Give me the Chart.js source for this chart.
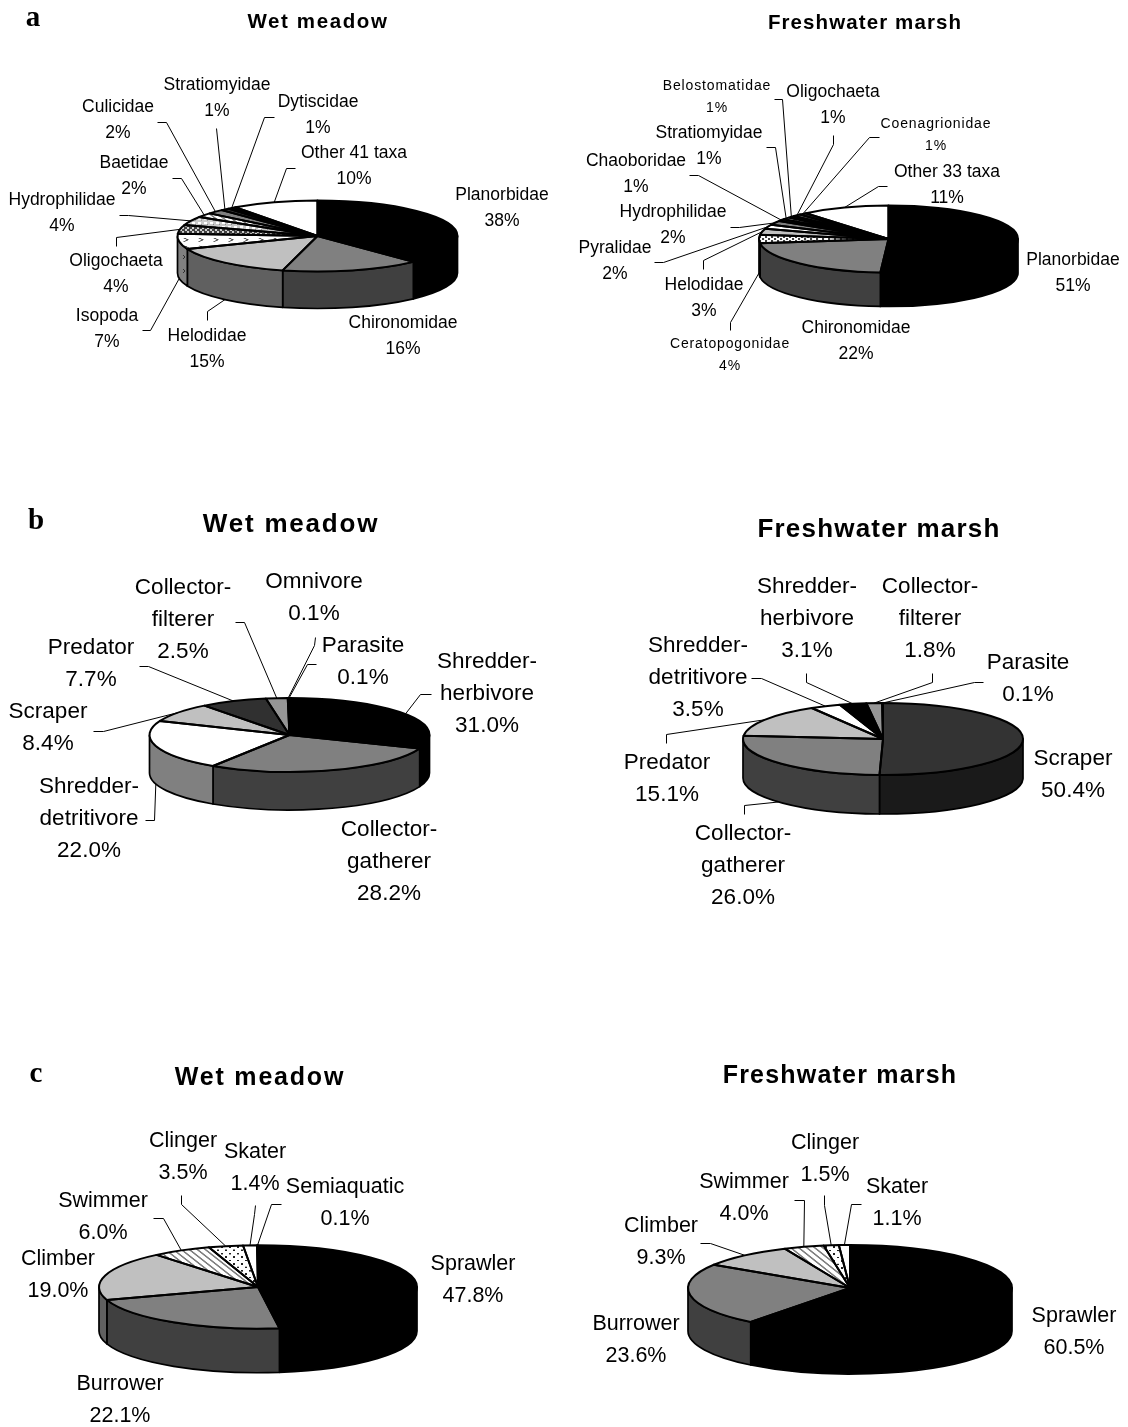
<!DOCTYPE html>
<html>
<head>
<meta charset="utf-8">
<title>Wet meadow and freshwater marsh pies</title>
<script src="https://cdn.jsdelivr.net/npm/chart.js@4"></script>
<style>
    html, body { margin: 0; padding: 0; background: #fff; }
    #page { position: relative; width: 1128px; height: 1427px; overflow: hidden; }
    #page canvas { position: absolute; }
</style>
</head>
<body>
<div id="page"></div>
<script>
(function() {
    'use strict';

    // Panel a: relative abundance of taxa
    const taxaWetNames = ['Planorbidae', 'Chironomidae', 'Helodidae', 'Isopoda', 'Oligochaeta', 'Hydrophilidae', 'Baetidae', 'Culicidae', 'Stratiomyidae', 'Dytiscidae', 'Other 41 taxa'];
    const taxaWetValues = [38, 16, 15, 7, 4, 4, 2, 2, 1, 1, 10];
    const taxaMarshNames = ['Planorbidae', 'Chironomidae', 'Ceratopogonidae', 'Helodidae', 'Pyralidae', 'Hydrophilidae', 'Chaoboridae', 'Stratiomyidae', 'Belostomatidae', 'Oligochaeta', 'Coenagrionidae', 'Other 33 taxa'];
    const taxaMarshValues = [51, 22, 4, 3, 2, 2, 1, 1, 1, 1, 1, 11];

    // Panel b: functional feeding groups
    const feedingWetNames = ['Shredder-herbivore', 'Collector-gatherer', 'Shredder-detritivore', 'Scraper', 'Predator', 'Collector-filterer', 'Omnivore', 'Parasite'];
    const feedingWetValues = [31.0, 28.2, 22.0, 8.4, 7.7, 2.5, 0.1, 0.1];
    const feedingMarshNames = ['Scraper', 'Collector-gatherer', 'Predator', 'Shredder-detritivore', 'Shredder-herbivore', 'Collector-filterer', 'Parasite'];
    const feedingMarshValues = [50.4, 26.0, 15.1, 3.5, 3.1, 1.8, 0.1];

    // Panel c: habit groups
    const habitWetNames = ['Sprawler', 'Burrower', 'Climber', 'Swimmer', 'Clinger', 'Skater', 'Semiaquatic'];
    const habitWetValues = [47.8, 22.1, 19.0, 6.0, 3.5, 1.4, 0.1];
    const habitMarshNames = ['Sprawler', 'Burrower', 'Climber', 'Swimmer', 'Clinger', 'Skater'];
    const habitMarshValues = [60.5, 23.6, 9.3, 4.0, 1.5, 1.1];

    const TITLE_WET = 'Wet meadow';
    const TITLE_MARSH = 'Freshwater marsh';

    const SANS = '"Liberation Sans", Arial, sans-serif';

    // Fill patterns for the small slices. Top tiles are tall because the pie gets squashed.
    function makeTile(w, h, bg, paint) {
        const c = document.createElement('canvas');
        c.width = w;
        c.height = h;
        const g = c.getContext('2d');
        g.fillStyle = bg;
        g.fillRect(0, 0, w, h);
        paint(g);
        return g.createPattern(c, 'repeat');
    }

    const chevronTop = makeTile(15, 30, '#fff', g => {
        g.strokeStyle = '#505050';
        g.lineWidth = 2;
        g.beginPath(); g.moveTo(4, 4); g.lineTo(8, 11); g.lineTo(4, 18); g.stroke();
    });
    const chevronSide = makeTile(12, 14, '#808080', g => {
        g.strokeStyle = '#303030';
        g.lineWidth = 1;
        g.beginPath(); g.moveTo(3, 3); g.lineTo(5, 5); g.lineTo(3, 7); g.stroke();
    });
    const checkDark = makeTile(5, 16, '#404040', g => {
        g.fillStyle = '#d0d0d0';
        g.fillRect(0, 0, 2, 7);
        g.fillRect(2, 8, 2, 7);
    });
    const checkLight = makeTile(6, 18, '#c8c8c8', g => {
        g.fillStyle = '#fff';
        g.fillRect(0, 0, 3, 9);
        g.fillStyle = '#888';
        g.fillRect(3, 9, 1, 4);
    });
    const checkWhite = makeTile(6, 18, '#fff', g => {
        g.fillStyle = '#404040';
        g.fillRect(0, 0, 2, 9);
        g.fillRect(3, 9, 2, 9);
    });
    const stripes = makeTile(8, 24, '#fff', g => {
        g.strokeStyle = '#808080';
        g.lineWidth = 2.4;
        g.beginPath();
        g.moveTo(-4, -12); g.lineTo(12, 36);
        g.moveTo(-12, -12); g.lineTo(4, 36);
        g.moveTo(4, -12); g.lineTo(20, 36);
        g.stroke();
    });
    const dots = makeTile(8, 26, '#fff', g => {
        g.fillStyle = '#202020';
        g.fillRect(1, 2, 2, 6);
        g.fillRect(5, 15, 2, 6);
    });

    // Slice colours, top face then the darker wall below it
    const taxaWetFills = ['#000', '#808080', '#c0c0c0', chevronTop, checkDark, checkLight, stripes, '#808080', '#303030', '#000', '#fff'];
    const taxaWetWalls = ['#000', '#404040', '#606060', chevronSide, '#202020', '#606060', '#808080', '#404040', '#181818', '#000', '#808080'];
    const taxaMarshFills = ['#000', '#808080', checkWhite, '#c0c0c0', '#fff', '#808080', '#303030', stripes, '#000', '#808080', '#303030', '#fff'];
    const taxaMarshWalls = ['#000', '#404040', '#101010', '#606060', '#808080', '#404040', '#181818', '#808080', '#000', '#404040', '#181818', '#808080'];
    const feedingWetFills = ['#000', '#808080', '#fff', '#c0c0c0', '#303030', '#969696', '#fff', '#000'];
    const feedingWetWalls = ['#000', '#404040', '#808080', '#606060', '#181818', '#4b4b4b', '#808080', '#000'];
    const feedingMarshFills = ['#333', '#808080', '#c0c0c0', '#fff', '#000', '#969696', '#fff'];
    const feedingMarshWalls = ['#1a1a1a', '#404040', '#606060', '#808080', '#000', '#4b4b4b', '#808080'];
    const habitWetFills = ['#000', '#808080', '#c0c0c0', stripes, dots, '#fff', '#000'];
    const habitWetWalls = ['#000', '#404040', '#606060', '#808080', '#808080', '#808080', '#000'];
    const habitMarshFills = ['#000', '#808080', '#c0c0c0', stripes, dots, '#fff'];
    const habitMarshWalls = ['#000', '#404040', '#606060', '#808080', '#808080', '#808080'];

    // Label centres (page px, middle of the first line) and leader elbows, in slice order
    const taxaWetLabels = [[502, 195], [403, 323], [207, 336], [107, 316], [116, 261], [62, 200], [134, 163], [118, 107], [217, 85], [318, 102], [354, 153]];
    const taxaWetLeaders = [null, null,
        [[207, 320], [207, 311]],
        [[142, 330], [150, 330]],
        [[116, 246], [116, 237]],
        [[119, 215], [128, 215]],
        [[172, 178], [181, 178]],
        [[157, 122], [166, 122]],
        [[216, 128]],
        [[274, 117], [264, 117]],
        [[295, 168], [286, 168]]];
    const taxaMarshLabels = [[1073, 260], [856, 328], [730, 344], [704, 285], [615, 248], [673, 212], [636, 161], [709, 133], [717, 86], [833, 92], [936, 124], [947, 172]];
    const taxaMarshLeaders = [null, null,
        [[730, 330], [730, 322]],
        [[703, 269], [703, 260]],
        [[654, 262], [663, 262]],
        [[730, 227], [739, 227]],
        [[689, 175], [698, 175]],
        [[766, 147], [775, 147]],
        [[774, 99], [782, 99]],
        [[833, 135], [833, 144]],
        [[879, 137], [869, 137]],
        [[887, 186], [878, 186]]];
    const taxaMarshSmall = ['Ceratopogonidae', 'Belostomatidae', 'Coenagrionidae'];

    const feedingWetLabels = [[487, 662], [389, 830], [89, 787], [48, 712], [91, 648], [183, 588], [314, 582], [363, 646]];
    const feedingWetLeaders = [
        [[431, 694], [420, 694]],
        null,
        [[145, 820], [154, 820]],
        [[93, 731], [103, 731]],
        [[139, 666], [148, 666]],
        [[235, 622], [244, 622]],
        [[315, 637], [314, 645]],
        [[316, 664], [307, 664]]];
    const feedingMarshLabels = [[1073, 759], [743, 834], [667, 763], [698, 646], [807, 587], [930, 587], [1028, 663]];
    const feedingMarshLeaders = [null,
        [[744, 814], [744, 805]],
        [[666, 743], [666, 734]],
        [[751, 678], [761, 678]],
        [[806, 673], [806, 682]],
        [[932, 673], [932, 682]],
        [[983, 682], [974, 682]]];

    const habitWetLabels = [[473, 1264], [120, 1384], [58, 1259], [103, 1201], [183, 1141], [255, 1152], [345, 1187]];
    const habitWetLeaders = [null, null, null,
        [[153, 1218], [163, 1218]],
        [[181, 1195], [181, 1204]],
        [[255, 1205], [254, 1214]],
        [[281, 1204], [271, 1204]]];
    const habitMarshLabels = [[1074, 1316], [636, 1324], [661, 1226], [744, 1182], [825, 1143], [897, 1187]];
    const habitMarshLeaders = [null, null,
        [[700, 1243], [710, 1243]],
        [[794, 1200], [804, 1200]],
        [[824, 1195], [824, 1205]],
        [[861, 1204], [851, 1204]]];

    const PANELS = [
        { names: taxaWetNames, values: taxaWetValues, fills: taxaWetFills, walls: taxaWetWalls, labels: taxaWetLabels, leaders: taxaWetLeaders, letter: ['a', 33, 26],
          title: TITLE_WET, titleAt: [318, 22], titleSize: 20.5, titleGap: 1.6, box: [0, 0, 564, 420], cx: 317.5, cy: 236, rx: 140, ry: 35.5, depth: 37, size: 17.5, line: 26, decimals: 0 },
        { names: taxaMarshNames, values: taxaMarshValues, fills: taxaMarshFills, walls: taxaMarshWalls, labels: taxaMarshLabels, leaders: taxaMarshLeaders, small: taxaMarshSmall,
          title: TITLE_MARSH, titleAt: [865, 23], titleSize: 20.5, titleGap: 1.1, box: [564, 0, 564, 420], cx: 888.5, cy: 239, rx: 129.5, ry: 33.5, depth: 34, size: 17.5, line: 26, decimals: 0 },
        { names: feedingWetNames, values: feedingWetValues, fills: feedingWetFills, walls: feedingWetWalls, labels: feedingWetLabels, leaders: feedingWetLeaders, letter: ['b', 36, 529],
          title: TITLE_WET, titleAt: [291, 525], titleSize: 26, titleGap: 1.8, box: [0, 420, 564, 540], cx: 289.5, cy: 735, rx: 140, ry: 37, depth: 38, size: 22.5, line: 32, decimals: 1 },
        { names: feedingMarshNames, values: feedingMarshValues, fills: feedingMarshFills, walls: feedingMarshWalls, labels: feedingMarshLabels, leaders: feedingMarshLeaders,
          title: TITLE_MARSH, titleAt: [879, 530], titleSize: 26, titleGap: 1.2, box: [564, 420, 564, 540], cx: 883, cy: 739, rx: 140, ry: 36, depth: 39, size: 22.5, line: 32, decimals: 1 },
        { names: habitWetNames, values: habitWetValues, fills: habitWetFills, walls: habitWetWalls, labels: habitWetLabels, leaders: habitWetLeaders, letter: ['c', 36, 1082],
          title: TITLE_WET, titleAt: [260, 1078], titleSize: 25, titleGap: 1.8, box: [0, 960, 564, 467], cx: 258, cy: 1287, rx: 159, ry: 41.7, depth: 44, size: 21.5, line: 32, decimals: 1 },
        { names: habitMarshNames, values: habitMarshValues, fills: habitMarshFills, walls: habitMarshWalls, labels: habitMarshLabels, leaders: habitMarshLeaders,
          title: TITLE_MARSH, titleAt: [840, 1076], titleSize: 25, titleGap: 1.2, box: [564, 960, 564, 467], cx: 850, cy: 1288, rx: 162, ry: 43, depth: 43, size: 21.5, line: 32, decimals: 1 }
    ];

    // "Shredder-herbivore" is set on two lines, broken after the hyphen
    function labelLines(name, value, decimals) {
        const lines = name.includes('-') ? [name.split('-')[0] + '-', name.split('-')[1]] : [name];
        lines.push(value.toFixed(decimals) + '%');
        return lines;
    }

    function rim(ctx, arc, ry, drop, start, end) {
        ctx.ellipse(arc.x, arc.y + drop, arc.outerRadius, ry, 0, start, end, start > end);
    }

    // Squash the library's round pie into an ellipse, with walls and outlines drawn around it
    const pie3d = {
        id: 'pie3d',
        beforeDatasetsDraw(chart, args, opts) {
            const ctx = chart.ctx;
            const arcs = chart.getDatasetMeta(0).data;
            ctx.save();
            ctx.strokeStyle = '#000';
            ctx.lineWidth = 1.7;
            ctx.lineJoin = 'round';
            arcs.forEach((arc, i) => {
                const start = Math.max(arc.startAngle, 0);
                const end = Math.min(arc.endAngle, Math.PI);
                if (end <= start) return;
                ctx.beginPath();
                rim(ctx, arc, opts.ry, 0, start, end);
                rim(ctx, arc, opts.ry, opts.depth, end, start);
                ctx.closePath();
                ctx.fillStyle = opts.walls[i];
                ctx.fill();
                ctx.stroke();
            });
            ctx.restore();

            const midX = arcs[0].x;
            const midY = arcs[0].y;
            ctx.save();
            ctx.translate(midX, midY);
            ctx.scale(1, opts.ry / opts.rx);
            ctx.translate(-midX, -midY);
        },
        afterDatasetsDraw(chart, args, opts) {
            const ctx = chart.ctx;
            ctx.restore();
            ctx.save();
            ctx.strokeStyle = '#000';
            ctx.lineWidth = 2;
            ctx.lineJoin = 'round';
            chart.getDatasetMeta(0).data.forEach(arc => {
                ctx.beginPath();
                ctx.moveTo(arc.x, arc.y);
                rim(ctx, arc, opts.ry, 0, arc.startAngle, arc.endAngle);
                ctx.closePath();
                ctx.stroke();
            });
            ctx.restore();
        },
        afterDraw(chart, args, opts) {
            const ctx = chart.ctx;
            const [bx, by] = opts.box;
            ctx.save();
            ctx.translate(-bx, -by);

            // Leaders run from the typed elbows to the middle of the slice edge
            ctx.strokeStyle = '#000';
            ctx.lineWidth = 1;
            chart.getDatasetMeta(0).data.forEach((arc, i) => {
                const elbows = opts.leaders[i];
                if (!elbows) return;
                const mid = (arc.startAngle + arc.endAngle) / 2;
                const onWall = Math.sin(mid) > -0.01;
                ctx.beginPath();
                elbows.forEach(p => ctx.lineTo(p[0] + 0.5, p[1] + 0.5));
                ctx.lineTo(bx + arc.x + arc.outerRadius * Math.cos(mid),
                           by + arc.y + opts.ry * Math.sin(mid) + (onWall ? opts.depth : 0));
                ctx.stroke();
            });

            // Slice labels
            ctx.fillStyle = '#000';
            ctx.textAlign = 'center';
            ctx.textBaseline = 'middle';
            opts.names.forEach((name, i) => {
                const isSmall = opts.small && opts.small.includes(name);
                ctx.font = (isSmall ? 14 : opts.size) + 'px ' + SANS;
                ctx.letterSpacing = isSmall ? '0.85px' : '0px';
                const step = isSmall ? 22 : opts.line;
                labelLines(name, opts.values[i], opts.decimals).forEach((text, n) => {
                    ctx.fillText(text, opts.labels[i][0], opts.labels[i][1] + n * step);
                });
            });

            // Title and panel letter
            ctx.font = 'bold ' + opts.titleSize + 'px ' + SANS;
            ctx.letterSpacing = opts.titleGap + 'px';
            ctx.fillText(opts.title, opts.titleAt[0], opts.titleAt[1]);
            ctx.letterSpacing = '0px';
            if (opts.letter) {
                ctx.font = 'bold 29px "Liberation Serif", serif';
                ctx.textBaseline = 'alphabetic';
                ctx.fillText(opts.letter[0], opts.letter[1], opts.letter[2]);
            }
            ctx.restore();
        }
    };

    PANELS.forEach(panel => {
        const [bx, by, bw, bh] = panel.box;
        const canvas = document.createElement('canvas');
        canvas.style.left = bx + 'px';
        canvas.style.top = by + 'px';
        canvas.width = bw;
        canvas.height = bh;
        canvas.style.width = bw + 'px';
        canvas.style.height = bh + 'px';
        document.getElementById('page').appendChild(canvas);

        // Padding leaves a small chart area centred on the pie; radius is given in px
        const half = 30;
        new Chart(canvas.getContext('2d'), {
            type: 'pie',
            data: {
                labels: panel.names,
                datasets: [{
                    data: panel.values,
                    backgroundColor: panel.fills,
                    borderWidth: 0,
                    clip: false
                }]
            },
            plugins: [pie3d],
            options: {
                responsive: false,
                animation: false,
                events: [],
                radius: panel.rx,
                layout: {
                    padding: {
                        left: panel.cx - half - bx,
                        right: bx + bw - panel.cx - half,
                        top: panel.cy - half - by,
                        bottom: by + bh - panel.cy - half
                    }
                },
                plugins: {
                    legend: { display: false },
                    tooltip: { enabled: false },
                    pie3d: panel
                }
            }
        });
    });
})();
</script>
</body>
</html>
